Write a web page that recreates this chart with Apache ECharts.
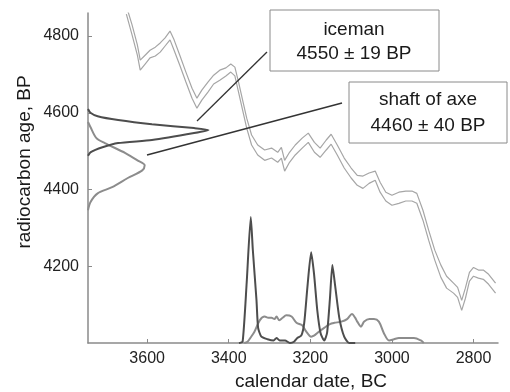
<!DOCTYPE html>
<html style="height: 100%;margin: 0;padding: 0;">
<head>
    <meta charset="utf-8">
    <title>iceman calibration</title>
    <script src="https://cdn.jsdelivr.net/npm/echarts@6/dist/echarts.min.js"></script>
</head>
<body style="margin:0;padding:0;background:#fff">
<div id="main" style="width:510px;height:392px"></div>
<script type="text/javascript">
// tick labels
var xTicks = [3600, 3400, 3200, 3000, 2800];
var yTicks = [4200, 4400, 4600, 4800];

// calibration curve, two lines (upper / lower), years BC vs BP
var calYears = [3651, 3637, 3624, 3617, 3605, 3593, 3580, 3568, 3556, 3544, 3534, 3520, 3505, 3490, 3478, 3466, 3451, 3437, 3422, 3407,
    3395, 3385, 3376, 3366, 3356, 3344, 3329, 3312, 3295, 3280, 3271, 3263, 3251, 3237, 3220, 3205, 3190, 3176, 3161, 3149,
    3134, 3117, 3100, 3085, 3071, 3056, 3041, 3029, 3015, 3000, 2983, 2966, 2951, 2939, 2924, 2910, 2895, 2880, 2866, 2849,
    2839, 2829, 2820, 2810, 2800, 2788, 2776, 2763, 2746];
var calUpper = [4878, 4829, 4777, 4737, 4750, 4763, 4771, 4782, 4795, 4813, 4790, 4750, 4706, 4664, 4638, 4659, 4680, 4698, 4711, 4717,
    4727, 4719, 4680, 4633, 4586, 4542, 4516, 4503, 4508, 4497, 4510, 4476, 4497, 4516, 4534, 4547, 4523, 4508, 4529, 4544,
    4516, 4482, 4456, 4437, 4435, 4443, 4448, 4419, 4393, 4385, 4393, 4396, 4396, 4390, 4346, 4294, 4242, 4203, 4174, 4156,
    4145, 4111, 4143, 4184, 4197, 4190, 4190, 4179, 4156];
var calLower = [4857, 4803, 4750, 4711, 4727, 4743, 4748, 4758, 4774, 4790, 4763, 4724, 4680, 4638, 4612, 4633, 4654, 4675, 4685, 4696,
    4706, 4696, 4654, 4607, 4560, 4516, 4490, 4476, 4482, 4471, 4482, 4448, 4471, 4490, 4508, 4523, 4497, 4484, 4503, 4518,
    4490, 4456, 4430, 4411, 4403, 4416, 4424, 4393, 4370, 4359, 4364, 4370, 4370, 4364, 4320, 4268, 4216, 4171, 4143, 4130,
    4119, 4085, 4116, 4161, 4174, 4169, 4166, 4153, 4130];

// radiocarbon measurements (density along the BP axis)
var iceBP   = [4610, 4600, 4591, 4581, 4570, 4560, 4555, 4547, 4529, 4521, 4510, 4497, 4488];
var iceDens = [0, 0.02, 0.08, 0.25, 0.53, 0.88, 1.0, 0.88, 0.53, 0.25, 0.12, 0.02, 0];
var axeBP   = [4576, 4563, 4534, 4521, 4495, 4476, 4463, 4450, 4430, 4406, 4390, 4367, 4346];
var axeDens = [0, 0.02, 0.07, 0.14, 0.31, 0.41, 0.47, 0.45, 0.33, 0.20, 0.08, 0.02, 0];

// calibrated dates (density along the calendar axis)
var iceCalYears = [3375, 3366, 3356, 3346, 3341, 3332, 3328, 3320, 3305, 3290, 3283, 3275, 3262, 3250, 3240, 3232, 3222, 3215,
    3207, 3198, 3191, 3183, 3175, 3166, 3159, 3152, 3146, 3139, 3129, 3117, 3105, 3090];
var iceCalDens = [0, 0.01, 0.48, 1.0, 0.74, 0.34, 0.12, 0.05, 0.03, 0.02, 0.04, 0.02, 0.02, 0, 0.01, 0.04, 0.06, 0.16,
    0.45, 0.72, 0.55, 0.26, 0.08, 0.02, 0.08, 0.35, 0.62, 0.45, 0.2, 0.05, 0, 0];
var axeCalYears = [3362, 3354, 3345, 3337, 3324, 3312, 3303, 3295, 3288, 3283, 3276, 3268, 3259, 3246, 3234, 3220, 3210, 3198,
    3190, 3183, 3166, 3152, 3141, 3124, 3110, 3098, 3090, 3085, 3076, 3068, 3055, 3044, 3032, 3020, 3007, 2995, 2983, 2965,
    2946, 2929, 2922];
var axeCalDens = [0, 0.01, 0.05, 0.09, 0.18, 0.21, 0.20, 0.20, 0.19, 0.21, 0.18, 0.20, 0.22, 0.21, 0.16, 0.14, 0.09, 0.05,
    0.06, 0.08, 0.12, 0.15, 0.16, 0.17, 0.19, 0.23, 0.20, 0.17, 0.13, 0.17, 0.19, 0.19, 0.17, 0.08, 0.02, 0.03, 0.04, 0.04,
    0.04, 0.02, 0];

function zip(a, b) {
    var out = [];
    for (var i = 0; i < a.length; i++) out.push([a[i], b[i]]);
    return out;
}

var font = '"Liberation Sans", Arial, sans-serif';
var axisGray = '#8a8a8a';
var plain = function (v) { return String(v); };

var myChart = echarts.init(document.getElementById('main'));
var option = {
    animation: false,
    backgroundColor: '#fff',
    grid: { left: 88, top: 13, right: 12, bottom: 49 },
    xAxis: [{
        type: 'value', min: 2740, max: 3745, inverse: true,
        axisLine: { lineStyle: { color: axisGray, width: 1.5 } },
        axisTick: { inside: true, length: 4, customValues: xTicks, lineStyle: { color: axisGray } },
        axisLabel: { customValues: xTicks, formatter: plain, margin: 8, color: '#222', fontSize: 16, fontFamily: font },
        splitLine: { show: false }
    }, {
        type: 'value', min: 0, max: 3.4, show: false
    }],
    yAxis: [{
        type: 'value', min: 4000, max: 4860,
        axisLine: { show: true, lineStyle: { color: axisGray, width: 1.5 } },
        axisTick: { show: true, inside: true, length: 4, customValues: yTicks, lineStyle: { color: axisGray } },
        axisLabel: { customValues: yTicks, formatter: plain, margin: 9, color: '#222', fontSize: 16, fontFamily: font },
        splitLine: { show: false }
    }, {
        type: 'value', min: 0, max: 2.62, show: false
    }],
    series: [
        { type: 'line', name: 'cal upper', data: zip(calYears, calUpper), symbol: 'none',
          lineStyle: { color: '#a6a6a6', width: 1.2 }, clip: true },
        { type: 'line', name: 'cal lower', data: zip(calYears, calLower), symbol: 'none',
          lineStyle: { color: '#a6a6a6', width: 1.2 }, clip: true },
        { type: 'line', name: 'axe BP', xAxisIndex: 1, yAxisIndex: 0, data: zip(axeDens, axeBP), symbol: 'none', smooth: 0.3,
          lineStyle: { color: '#8c8c8c', width: 2 } },
        { type: 'line', name: 'iceman BP', xAxisIndex: 1, yAxisIndex: 0, data: zip(iceDens, iceBP), symbol: 'none', smooth: 0.2,
          lineStyle: { color: '#4d4d4d', width: 2 } },
        { type: 'line', name: 'axe cal', xAxisIndex: 0, yAxisIndex: 1, data: zip(axeCalYears, axeCalDens), symbol: 'none', smooth: 0.3,
          lineStyle: { color: '#8c8c8c', width: 2 } },
        { type: 'line', name: 'iceman cal', xAxisIndex: 0, yAxisIndex: 1, data: zip(iceCalYears, iceCalDens), symbol: 'none', smooth: 0.2,
          lineStyle: { color: '#4d4d4d', width: 2 } }
    ],
    graphic: [
        // leader lines
        { type: 'line', shape: { x1: 197, y1: 121, x2: 267, y2: 52 }, style: { stroke: '#333', lineWidth: 1.3 }, z: 10 },
        { type: 'line', shape: { x1: 147, y1: 155, x2: 342, y2: 103 }, style: { stroke: '#333', lineWidth: 1.3 }, z: 10 },
        // label boxes
        { type: 'rect', shape: { x: 270, y: 10, width: 169, height: 61 }, style: { fill: '#fff', stroke: '#8a8a8a', lineWidth: 1 }, z: 10 },
        { type: 'text', x: 354, y: 30, style: { text: 'iceman', fill: '#1a1a1a', font: '19px ' + font, textAlign: 'center', textVerticalAlign: 'middle' }, z: 11 },
        { type: 'text', x: 354, y: 54, style: { text: '4550 ± 19 BP', fill: '#1a1a1a', font: '19px ' + font, textAlign: 'center', textVerticalAlign: 'middle' }, z: 11 },
        { type: 'rect', shape: { x: 349, y: 82, width: 158, height: 61 }, style: { fill: '#fff', stroke: '#8a8a8a', lineWidth: 1 }, z: 10 },
        { type: 'text', x: 428, y: 100, style: { text: 'shaft of axe', fill: '#1a1a1a', font: '19px ' + font, textAlign: 'center', textVerticalAlign: 'middle' }, z: 11 },
        { type: 'text', x: 428, y: 126, style: { text: '4460 ± 40 BP', fill: '#1a1a1a', font: '19px ' + font, textAlign: 'center', textVerticalAlign: 'middle' }, z: 11 },
        // axis titles
        { type: 'text', x: 25, y: 162, rotation: Math.PI / 2, style: { text: 'radiocarbon age, BP', fill: '#1a1a1a', font: '19px ' + font, textAlign: 'center', textVerticalAlign: 'middle' } },
        { type: 'text', x: 311, y: 382, style: { text: 'calendar date, BC', fill: '#1a1a1a', font: '19px ' + font, textAlign: 'center', textVerticalAlign: 'middle' } }
    ]
};
myChart.setOption(option);
</script>
</body>
</html>
